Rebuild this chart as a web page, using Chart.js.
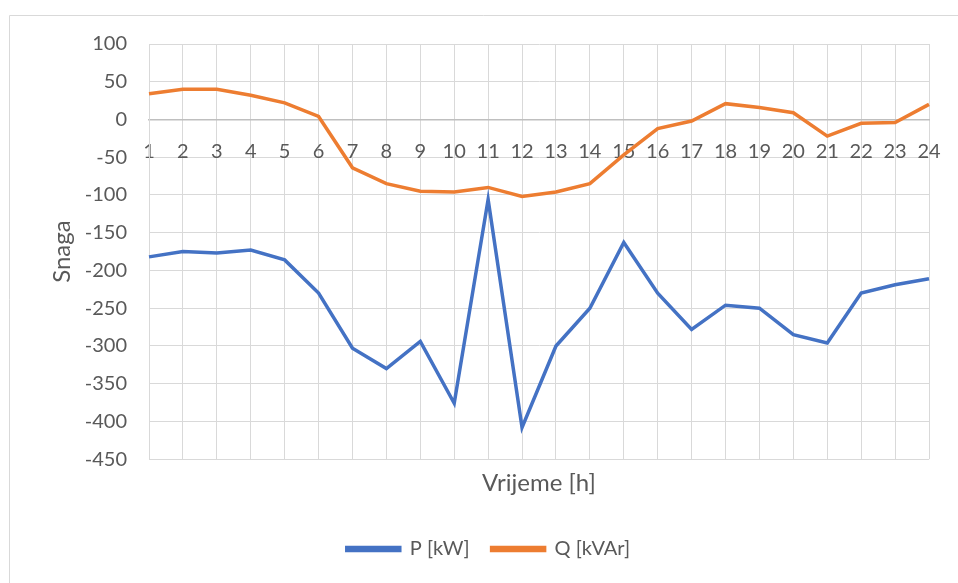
<!DOCTYPE html>
<html>
<head>
<meta charset="utf-8">
<script src="https://cdn.jsdelivr.net/npm/chart.js@4"></script>
<style>
  html, body { margin: 0; padding: 0; background: #fff; }
  #wrap { position: relative; width: 958px; height: 583px; }
</style>
</head>
<body>
<div id="wrap"><canvas id="chart"></canvas></div>
<script>
// hours on the category axis
var hours = ['1','2','3','4','5','6','7','8','9','10','11','12','13','14','15','16','17','18','19','20','21','22','23','24'];

// active power P [kW]
var pValues = [-182, -175, -177, -173, -186, -230, -303, -330, -294, -376, -106, -408,
               -300, -250, -163, -230, -278, -246, -250, -285, -296, -230, -219, -211];

// reactive power Q [kVAr]
var qValues = [34, 40, 40, 32, 22, 4, -64, -85, -95, -96, -90, -102,
               -96, -85, -47, -12, -2, 21, 16, 9, -22, -5, -4, 20];

var yTicks = { min: -450, max: 100, step: 50 };

var textColor = '#595959';
var gridColor = '#d9d9d9';
var fontFamily = 'Lato, "Open Sans", sans-serif';
var fontSize = 20;
var titleSize = 24;

// light frame round the chart, like the Excel chart border
var framePlugin = {
    id: 'frame',
    beforeDraw: function (chart) {
        var ctx = chart.ctx;
        ctx.save();
        ctx.strokeStyle = gridColor;
        ctx.lineWidth = 1;
        ctx.beginPath();
        ctx.moveTo(9.5, chart.height);
        ctx.lineTo(9.5, 15.5);
        ctx.lineTo(chart.width, 15.5);
        ctx.stroke();
        ctx.restore();
    }
};

// drop the extra side padding Chart.js keeps for the edge labels
function noSidePadding(scale) {
    scale.paddingLeft = 0;
    scale.paddingRight = 0;
}

var ctx = document.getElementById('chart').getContext('2d');
var myChart = new Chart(ctx, {
    type: 'line',
    data: {
        labels: hours,
        datasets: [{
            label: 'P [kW]',
            data: pValues,
            borderColor: '#4472c4',
            backgroundColor: '#4472c4',
            borderWidth: 3.5,
            pointRadius: 0,
            tension: 0,
            xAxisID: 'x'
        }, {
            label: 'Q [kVAr]',
            data: qValues,
            borderColor: '#ed7d31',
            backgroundColor: '#ed7d31',
            borderWidth: 3.5,
            pointRadius: 0,
            tension: 0,
            xAxisID: 'x'
        }]
    },
    options: {
        responsive: true,
        maintainAspectRatio: false,
        animation: false,
        events: [],
        layout: {
            padding: { left: 48, right: 29, top: 44, bottom: 14 }
        },
        plugins: {
            tooltip: { enabled: false },
            legend: {
                position: 'bottom',
                labels: {
                    boxWidth: 53,
                    boxHeight: 3,
                    padding: 22,
                    color: textColor,
                    font: { family: fontFamily, size: fontSize }
                }
            }
        },
        scales: {
            x: {
                type: 'category',
                position: { y: 0 },
                grid: { color: gridColor, drawTicks: false },
                border: { color: '#bfbfbf', width: 1.5 },
                ticks: {
                    color: textColor,
                    padding: 20,
                    maxRotation: 0,
                    autoSkip: false,
                    font: { family: fontFamily, size: fontSize }
                },
                afterFit: noSidePadding
            },
            x2: {
                type: 'category',
                position: 'bottom',
                grid: { display: false },
                border: { display: false },
                ticks: { display: false },
                title: {
                    display: true,
                    text: 'Vrijeme [h]',
                    color: textColor,
                    padding: { top: 2, bottom: 19 },
                    font: { family: fontFamily, size: titleSize }
                },
                afterFit: noSidePadding
            },
            y: {
                min: yTicks.min,
                max: yTicks.max,
                grid: { color: gridColor, drawTicks: false },
                border: { color: gridColor },
                ticks: {
                    stepSize: yTicks.step,
                    color: textColor,
                    padding: 22,
                    font: { family: fontFamily, size: fontSize }
                },
                title: {
                    display: true,
                    text: 'Snaga',
                    color: textColor,
                    padding: 0,
                    font: { family: fontFamily, size: titleSize }
                },
                afterFit: function (scale) { scale.width = 101; }
            }
        }
    },
    plugins: [framePlugin]
});
</script>
</body>
</html>
